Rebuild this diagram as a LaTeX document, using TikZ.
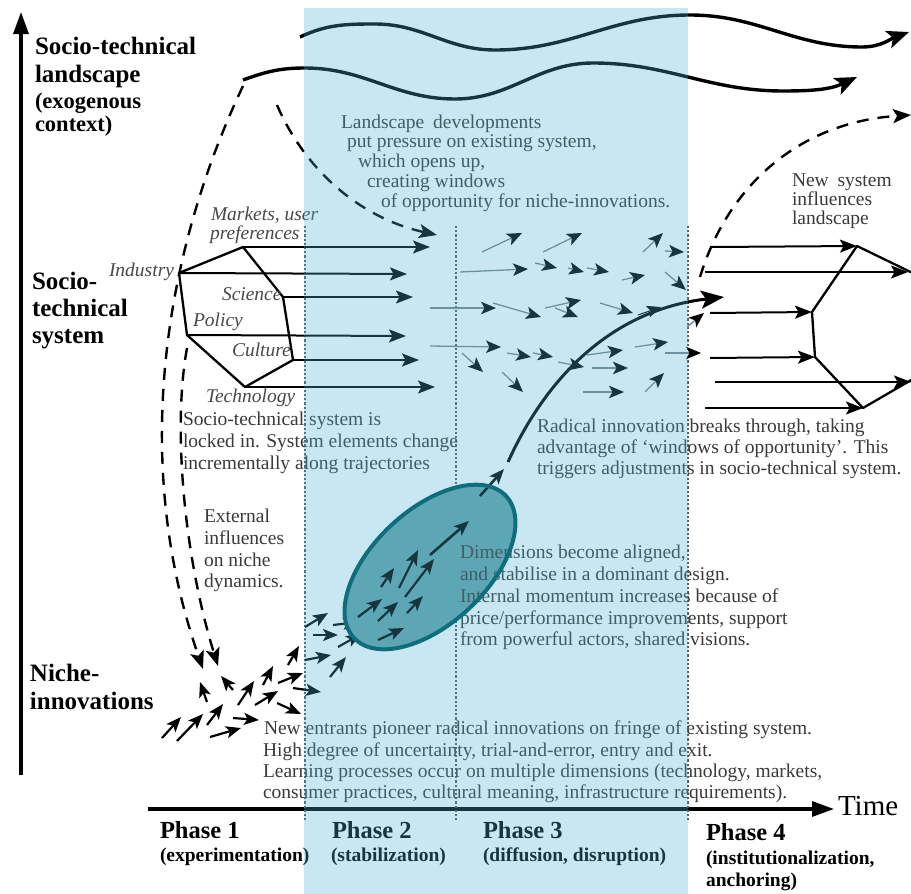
\documentclass[tikz,border=0pt]{standalone}
\usepackage{fontspec}
\setmainfont{Liberation Serif}
\usetikzlibrary{arrows.meta}
\definecolor{bandblue}{RGB}{78,178,212}
\definecolor{txtgray}{RGB}{58,58,58}
\definecolor{elemgray}{RGB}{72,72,72}
\definecolor{ellfill}{RGB}{100,163,168}
\definecolor{ellline}{RGB}{16,110,124}
\definecolor{stemgray}{RGB}{120,132,138}
\definecolor{guide}{RGB}{75,92,102}
\begin{document}
\begin{tikzpicture}[x=1pt,y=-1pt,line join=round,
  every node/.style={inner sep=0pt,outer sep=0pt},
  body/.style={anchor=mid west,text=txtgray,font=\fontsize{19.5}{20}\selectfont},
  elem/.style={anchor=mid west,text=elemgray,font=\fontsize{19.5}{20}\selectfont\itshape},
  lab/.style={anchor=mid west,text=black,font=\fontsize{25}{28}\selectfont\bfseries},
  sublab/.style={anchor=mid west,text=black,font=\fontsize{22.5}{25}\selectfont\bfseries},
  phase/.style={anchor=mid west,text=black,font=\fontsize{24.5}{26}\selectfont\bfseries},
  phasesub/.style={anchor=mid west,text=black,font=\fontsize{19.5}{21}\selectfont\bfseries},
  timelab/.style={anchor=mid west,text=black,font=\fontsize{29}{30}\selectfont},
  axis/.style={line width=3.2pt,-{Triangle[length=22pt,width=15pt]}},
  wave/.style={line width=3.4pt,-{Stealth[length=22pt,width=18pt,inset=5pt]}},
  dashcurve/.style={line width=2.4pt,dash pattern=on 12pt off 9pt,-{Stealth[length=18pt,width=14pt,inset=4pt]}},
  flow/.style={line width=2pt,-{Stealth[length=17pt,width=13pt,inset=3.5pt]}},
  nichearr/.style={line width=2.2pt,-{Stealth[length=15pt,width=12pt,inset=3.5pt]}},
  driftarr/.style={draw=stemgray,line width=1.3pt,-{Stealth[length=15pt,width=12.5pt,inset=3.5pt,color=black]}},
  hexline/.style={line width=2.3pt},
  phaseline/.style={draw=guide,line width=1.1pt,dash pattern=on 2.2pt off 2pt},
  breakthrough/.style={line width=3pt,-{Stealth[length=23pt,width=18pt,inset=5pt]}}
]
\useasboundingbox (0,0) rectangle (911,894);
\fill[white] (0,0) rectangle (911,894);

% ---------- axes ----------
\coordinate (ybot) at (21,775);
\coordinate (ytop) at (21,12);
\draw[axis] (ybot) -- (ytop);
\coordinate (tleft) at (148,809);
\coordinate (tright) at (834,809);
\draw[axis] (tleft) -- (tright);
\node[timelab] (time) at (838,813) {Time};

% ---------- phase borders ----------
\coordinate (p2top) at (305,226); \coordinate (p2bot) at (305,822);
\coordinate (p3top) at (456,226); \coordinate (p3bot) at (456,822);
\coordinate (p4top) at (688,226); \coordinate (p4bot) at (688,822);
\draw[phaseline] (p2top) -- (p2bot);
\draw[phaseline] (p3top) -- (p3bot);
\draw[phaseline] (p4top) -- (p4bot);

% ---------- level labels ----------
\node[lab] (lab1) at (35,52) {Socio-technical};
\node[lab] (lab2) at (35,80) {landscape};
\node[sublab] (lab3) at (35,106) {(exogenous};
\node[sublab] (lab4) at (35,129) {context)};
\node[lab] (sys1) at (32,287) {Socio-};
\node[lab] (sys2) at (32,314) {technical};
\node[lab] (sys3) at (32,341) {system};
\node[lab] (nic1) at (30,679) {Niche-};
\node[lab] (nic2) at (30,707) {innovations};

% ---------- landscape trends ----------
\coordinate (wa0) at (300,37);
\coordinate (wa1) at (909,32);
\draw[wave] (wa0) to[out=25,in=180] (375,24) to[out=0,in=180] (495,50)
  to[out=0,in=180] (690,15) to[out=0,in=180] (862,47) to[out=0,in=200] (wa1);
\coordinate (wb0) at (243,80);
\coordinate (wb1) at (857,77);
\draw[wave] (wb0) to[out=20,in=180] (305,68) to[out=0,in=180] (455,99)
  to[out=0,in=180] (593,63) to[out=0,in=180] (783,91) to[out=0,in=205] (wb1);

% ---------- landscape pressure and feedback ----------
\coordinate (dw0) at (277,105);
\coordinate (dw1) at (437,235);
\draw[dashcurve] (dw0) .. controls (305,170) and (360,218) .. (dw1);
\coordinate (dl0) at (243,86);
\coordinate (dl1) at (203,669);
\draw[dashcurve] (dl0) .. controls (165,250) and (130,460) .. (dl1);
\coordinate (di0) at (187,348);
\coordinate (di1) at (218,666);
\draw[dashcurve] (di0) .. controls (172,430) and (185,560) .. (di1);
\coordinate (dr0) at (700,277);
\coordinate (dr1) at (911,115);
\draw[dashcurve] (dr0) .. controls (728,185) and (800,122) .. (dr1);

% ---------- landscape texts ----------
\node[body] (ld1) at (341,126) {Landscape\hspace{0.45em}developments};
\node[body] (ld2) at (347,145) {put pressure on existing system,};
\node[body] (ld3) at (358,165) {which opens up,};
\node[body] (ld4) at (367,185) {creating windows};
\node[body] (ld5) at (381,205) {of opportunity for niche-innovations.};
\node[body] (ns1) at (792,184) {New\hspace{0.45em}system};
\node[body] (ns2) at (792,203) {influences};
\node[body] (ns3) at (792,222) {landscape};

% ---------- existing socio-technical system ----------
\coordinate (hm) at (243,247);
\coordinate (hs) at (283,297);
\coordinate (hc) at (293,360);
\coordinate (ht) at (245,387);
\coordinate (hp) at (187,335);
\coordinate (hi) at (179,273);
\draw[hexline] (hm) -- (hs) -- (hc) -- (ht) -- (hp) -- (hi) -- cycle;
\draw[flow] (hm) -- (430,247);
\draw[flow] (hi) -- (407,274);
\draw[flow] (hs) -- (413,297);
\draw[flow] (hp) -- (406,336);
\draw[flow] (hc) -- (419,360);
\draw[flow] (ht) -- (435,387);

\node[elem] (mk1) at (211,218) {Markets, user};
\node[elem] (mk2) at (210,237) {preferences};
\node[elem] (ind) at (109,274) {Industry};
\node[elem] (sci) at (222,298) {Science};
\node[elem] (pol) at (193,324) {Policy};
\node[elem] (cul) at (232,354) {Culture};
\node[elem] (tec) at (206,400) {Technology};

\node[body] (lk1) at (183,423) {Socio-technical system is};
\node[body] (lk2) at (183,445) {locked in. System elements change};
\node[body] (lk3) at (183,467) {incrementally along trajectories};

% ---------- loosening elements during diffusion ----------
\foreach \xa/\ya/\xb/\yb in {482/252/522/233, 543/252/582/233, 643/252/663/233,
  665/251/684/252, 460/272/528/269, 535/263/557/268, 568/268/584/272,
  587/268/609/272, 622/280/645/275, 665/272/686/290, 430/308/496/308,
  430/346/501/347, 493/303/541/317, 545/308/581/300, 555/308/578/317,
  600/303/633/313, 507/353/531/357, 533/353/553/357, 462/353/483/372,
  502/372/523/392, 558/362/584/367, 587/355/623/350, 592/368/628/368,
  635/347/668/342, 583/392/624/392, 645/392/664/373, 665/353/701/353,
  687/327/704/313}
  \draw[driftarr] (\xa,\ya) -- (\xb,\yb);

% ---------- new socio-technical system ----------
\coordinate (na) at (857,246);
\coordinate (nb) at (812,312);
\coordinate (nc) at (815,357);
\coordinate (nd) at (863,408);
\draw[hexline] (925,279) -- (na) -- (nb) -- (nc) -- (nd) -- (925,372);
\draw[flow] (712,247) -- (na);
\draw[flow] (705,272) -- (908,272);
\draw[flow] (710,313) -- (nb);
\draw[flow] (710,358) -- (nc);
\draw[flow] (715,382) -- (911,382);
\draw[flow] (705,408) -- (nd);

% ---------- niche-innovations ----------
\foreach \xa/\ya/\xb/\yb in {162/738/181/717, 177/741/203/714, 210/737/241/728,
  207/725/223/704, 207/702/200/682, 233/690/221/676, 233/718/259/720,
  238/705/254/681, 255/705/278/691, 263/685/273/666, 277/703/301/714,
  278/683/303/673, 288/665/299/646, 293/688/321/692,
  305/627/328/613, 313/635/338/635, 333/625/358/622, 338/647/361/634,
  305/660/331/655, 330/677/346/657}
  \draw[nichearr] (\xa,\ya) -- (\xb,\yb);

% dominant design takes shape
\coordinate (ell) at (430,567);
\fill[ellfill,rotate around={43:(ell)}] (ell) ellipse [x radius=104pt,y radius=57pt];
\foreach \xa/\ya/\xb/\yb in {358/617/382/599, 378/621/398/602, 381/587/394/568,
  399/588/418/550, 405/597/434/559, 407/613/423/596, 378/640/404/628}
  \draw[nichearr] (\xa,\ya) -- (\xb,\yb);
\draw[nichearr,line width=2.6pt] (430,555) -- (469,521);
\draw[nichearr,line width=2.6pt] (480,496) -- (504,469);

% breakthrough of the radical innovation
\coordinate (bt0) at (508,462);
\coordinate (bt1) at (724,297);
\draw[breakthrough] (bt0) .. controls (545,380) and (610,310) .. (bt1);
\draw[-{Stealth[length=14pt,width=12pt,inset=3pt]},line width=1pt] (638,315) -- (661,307);

\node[body] (rd1) at (537,430) {Radical innovation breaks through, taking};
\node[body] (rd2) at (537,451) {advantage of ‘windows of opportunity’. This};
\node[body] (rd3) at (537,472) {triggers adjustments in socio-technical system.};

\node[body] (ex1) at (204,520) {External};
\node[body] (ex2) at (204,542) {influences};
\node[body] (ex3) at (204,564) {on niche};
\node[body] (ex4) at (204,585) {dynamics.};

\node[body] (dm1) at (460,556) {Dimensions become aligned,};
\node[body] (dm2) at (460,578) {and stabilise in a dominant design.};
\node[body] (dm3) at (460,600) {Internal momentum increases because of};
\node[body] (dm4) at (460,622) {price/performance improvements, support};
\node[body] (dm5) at (460,643) {from powerful actors, shared visions.};

\node[body] (ne1) at (264,732) {New entrants pioneer radical innovations on fringe of existing system.};
\node[body] (ne2) at (263,754) {High degree of uncertainty, trial-and-error, entry and exit.};
\node[body] (ne3) at (263,775) {Learning processes occur on multiple dimensions (technology, markets,};
\node[body] (ne4) at (263,796) {consumer practices, cultural meaning, infrastructure requirements).};

% ---------- phases ----------
\node[phase] (ph1) at (160,836) {Phase 1};
\node[phasesub] (ph1s) at (160,859) {(experimentation)};
\node[phase] (ph2) at (332,836) {Phase 2};
\node[phasesub] (ph2s) at (331,859) {(stabilization)};
\node[phase] (ph3) at (483,836) {Phase 3};
\node[phasesub] (ph3s) at (483,859) {(diffusion, disruption)};
\node[phase] (ph4) at (706,838) {Phase 4};
\node[phasesub] (ph4s) at (706,862) {(institutionalization,};
\node[phasesub] (ph4t) at (706,884) {anchoring)};

% ---------- stabilisation and diffusion band ----------
\fill[bandblue,opacity=0.30] (304,8) rectangle (688,894);
\draw[ellline,line width=4pt,rotate around={43:(ell)}] (ell) ellipse [x radius=104pt,y radius=57pt];
\end{tikzpicture}
\end{document}
